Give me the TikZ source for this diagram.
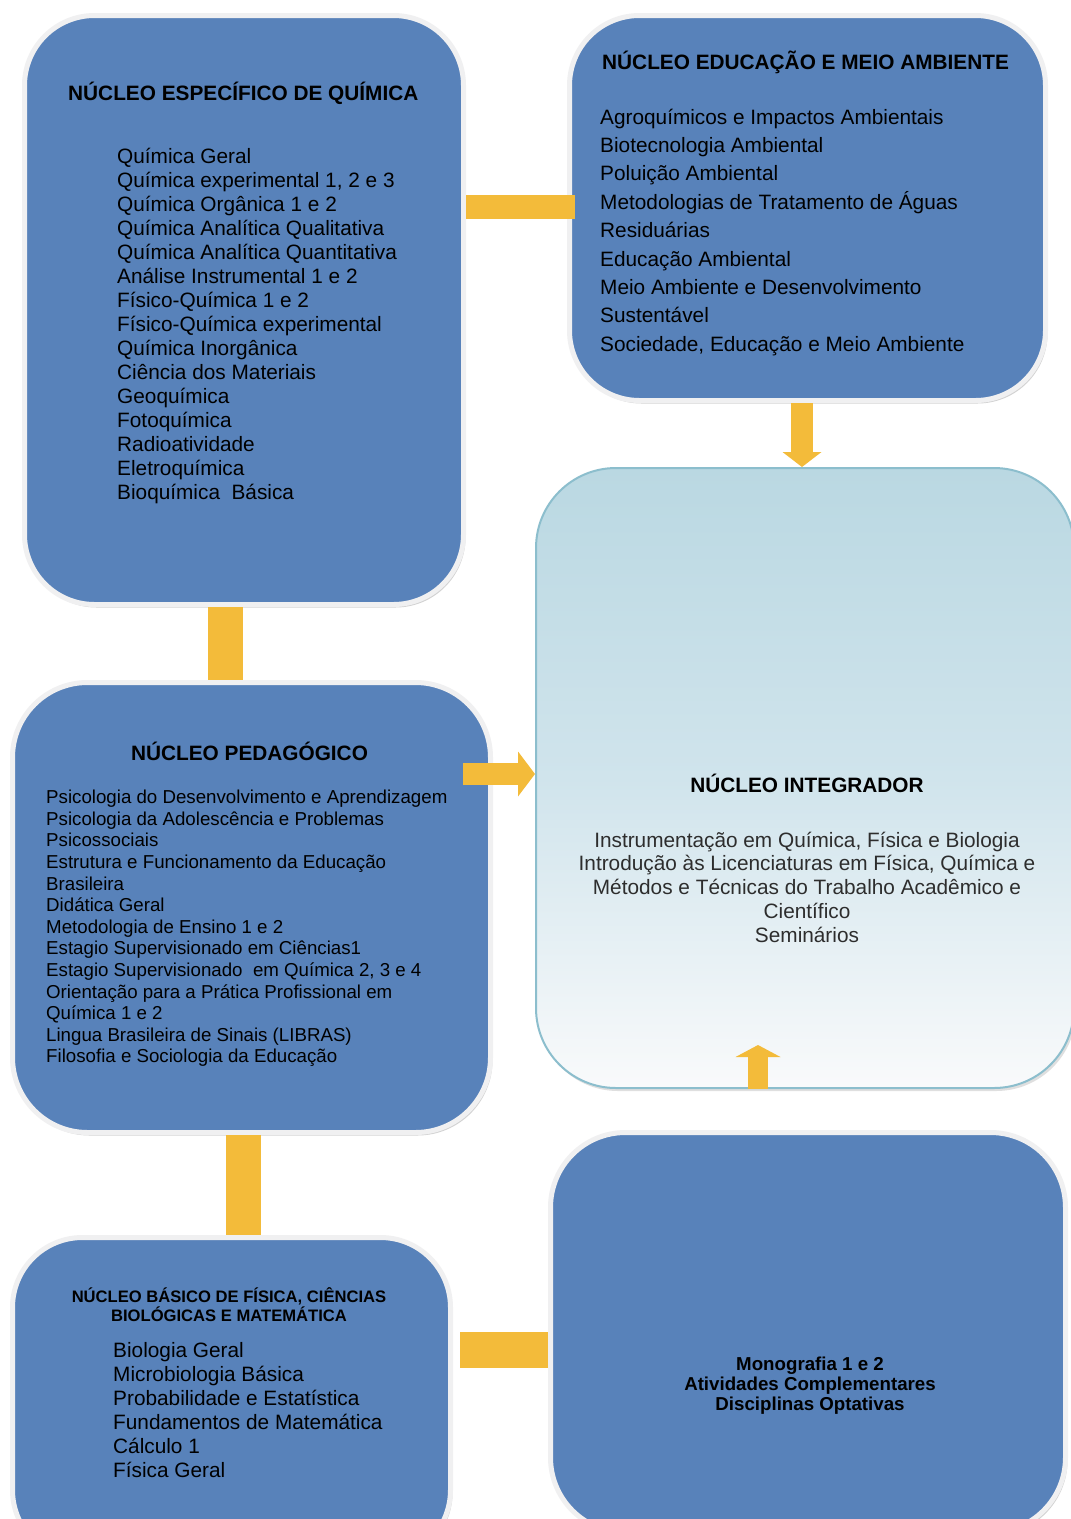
\documentclass[tikz,border=0pt]{standalone}
\usepackage{fontspec}
\setmainfont{Liberation Sans}
\usetikzlibrary{arrows.meta,shadows}
\definecolor{boxblue}{RGB}{88,130,186}
\definecolor{boxrim}{RGB}{240,240,241}
\definecolor{barYel}{RGB}{243,187,58}
\definecolor{intTop}{RGB}{186,216,226}
\definecolor{intMid}{RGB}{208,228,236}
\definecolor{intBot}{RGB}{249,250,251}
\definecolor{intRim}{RGB}{140,190,205}
\definecolor{txtgray}{RGB}{45,45,45}
\newcommand\bodyfnt{\fontsize{20.8}{24}\selectfont}
\newcommand\pedfnt{\fontsize{18.7}{21.6}\selectfont}
\newcommand\smallbold{\fontsize{16.6}{19}\selectfont\bfseries}
\newcommand\monofnt{\fontsize{18.7}{20}\selectfont\bfseries}
\tikzset{
  bluebox/.style={draw=boxrim, line width=5pt, fill=boxblue, rounded corners=70pt,
    inner sep=0pt, drop shadow={shadow xshift=2pt, shadow yshift=-3pt, opacity=0.35}},
  intbox/.style={draw=intRim, line width=2pt, top color=intTop, bottom color=intBot,
    middle color=intMid, rounded corners=80pt, inner sep=0pt,
    drop shadow={shadow xshift=2pt, shadow yshift=-3pt, opacity=0.25}},
  bar/.style={draw=barYel, line width=#1},
  ttl/.style={inner sep=0pt, font=\bodyfnt\bfseries, text=black},
  txt/.style={inner sep=0pt, anchor=base west, font=\bodyfnt, text=black},
}
\begin{document}
\begin{tikzpicture}[x=1pt,y=-1pt]
\useasboundingbox (0,0) rectangle (1071,1519);
\fill[white] (0,0) rectangle (1071,1519);
\clip (0,0) rectangle (1071,1519);

% boxes
\node[bluebox, minimum width=439pt, minimum height=589pt] (A) at (244,310) {};
\node[bluebox, minimum width=476pt, minimum height=385pt] (B) at (807.5,208) {};
\node[bluebox, minimum width=478pt, minimum height=450pt, rounded corners=75pt] (C) at (251.5,907.5) {};
\node[intbox, minimum width=538pt, minimum height=620pt] (D) at (805,778) {};
\node[bluebox, minimum width=438pt, minimum height=322.5pt] (E) at (231.5,1398.75) {};
\node[bluebox, minimum width=515pt, minimum height=400pt, rounded corners=75pt] (F) at (808,1332.5) {};

% connectors
\draw[bar=24pt, shorten >=-8pt] (A.east |- 0,207) -- (B.west |- 0,207);
\draw[bar=35pt] (225.5,0 |- A.south) -- (225.5,0 |- C.north);
\draw[bar=35pt] (243.5,0 |- C.south) -- (243.5,0 |- E.north);
\draw[bar=36pt, shorten <=7pt] (E.east |- 0,1350) -- (F.west |- 0,1350);
\draw[bar=22pt, -{Triangle[width=39pt 0 0,length=15pt 0 0,line width=0pt 0 0]}]
  (802,0 |- B.south) -- (802,0 |- D.north);
\draw[bar=22pt, shorten <=-30pt, -{Triangle[width=45pt 0 0,length=17pt 0 0,line width=0pt 0 0]}]
  (C.east |- 0,774) -- (D.west |- 0,774);
\coordinate (upTip) at (758,1045);
\draw[bar=20pt, -{Triangle[width=45pt 0 0,length=12pt 0 0,line width=0pt 0 0]}]
  (758,0 |- D.south) -- (upTip);

% box A text
\node[ttl, anchor=base west] (At) at (68,100.5) {NÚCLEO ESPECÍFICO DE QUÍMICA};
\foreach \t [count=\i from 0] in {Química Geral, {Química experimental 1, 2 e 3},
  Química Orgânica 1 e 2, Química Analítica Qualitativa, Química Analítica Quantitativa,
  Análise Instrumental 1 e 2, Físico-Química 1 e 2, Físico-Química experimental,
  Química Inorgânica, Ciência dos Materiais, Geoquímica, Fotoquímica, Radioatividade,
  Eletroquímica, Bioquímica\ \ Básica}
  \node[txt] (A-\i) at (117,163+24*\i) {\t};

% box B text
\node[ttl, anchor=base west] (Bt) at (602,69.5) {NÚCLEO EDUCAÇÃO E MEIO AMBIENTE};
\foreach \t [count=\i from 0] in {Agroquímicos e Impactos Ambientais, Biotecnologia Ambiental,
  Poluição Ambiental, Metodologias de Tratamento de Águas, Residuárias, Educação Ambiental,
  Meio Ambiente e Desenvolvimento, Sustentável, {Sociedade, Educação e Meio Ambiente}}
  \node[txt] (B-\i) at (600,124+28.4*\i) {\t};

% box C text
\node[ttl, anchor=base] (Ct) at (249.5,760.5) {NÚCLEO PEDAGÓGICO};
\foreach \t [count=\i from 0] in {Psicologia do Desenvolvimento e Aprendizagem,
  Psicologia da Adolescência e Problemas, Psicossociais,
  Estrutura e Funcionamento da Educação, Brasileira, Didática Geral,
  Metodologia de Ensino 1 e 2, Estagio Supervisionado em Ciências1,
  {Estagio Supervisionado\ \ em Química 2, 3 e 4},
  Orientação para a Prática Profissional em, Química 1 e 2,
  Lingua Brasileira de Sinais (LIBRAS), Filosofia e Sociologia da Educação}
  \node[txt, font=\pedfnt] (C-\i) at (46,803.7+21.6*\i) {\t};

% box D text
\node[ttl, anchor=base] (Dt) at (807,792.5) {NÚCLEO INTEGRADOR};
\foreach \t [count=\i from 0] in {{Instrumentação em Química, Física e Biologia},
  {Introdução às Licenciaturas em Física, Química e},
  Métodos e Técnicas do Trabalho Acadêmico e, Científico, Seminários}
  \node[txt, anchor=base, text=txtgray] (D-\i) at (807,847+23.8*\i) {\t};

% box E text
\node[inner sep=0pt, anchor=base, font=\smallbold] (Et1) at (229,1302) {NÚCLEO BÁSICO DE FÍSICA, CIÊNCIAS};
\node[inner sep=0pt, anchor=base, font=\smallbold] (Et2) at (229,1321) {BIOLÓGICAS E MATEMÁTICA};
\foreach \t [count=\i from 0] in {Biologia Geral, Microbiologia Básica,
  Probabilidade e Estatística, Fundamentos de Matemática, Cálculo 1, Física Geral}
  \node[txt] (E-\i) at (113,1357+24*\i) {\t};

% box F text
\foreach \t [count=\i from 0] in {Monografia 1 e 2, Atividades Complementares, Disciplinas Optativas}
  \node[inner sep=0pt, anchor=base, font=\monofnt] (F-\i) at (810,1370.5+20*\i) {\t};
\end{tikzpicture}
\end{document}
